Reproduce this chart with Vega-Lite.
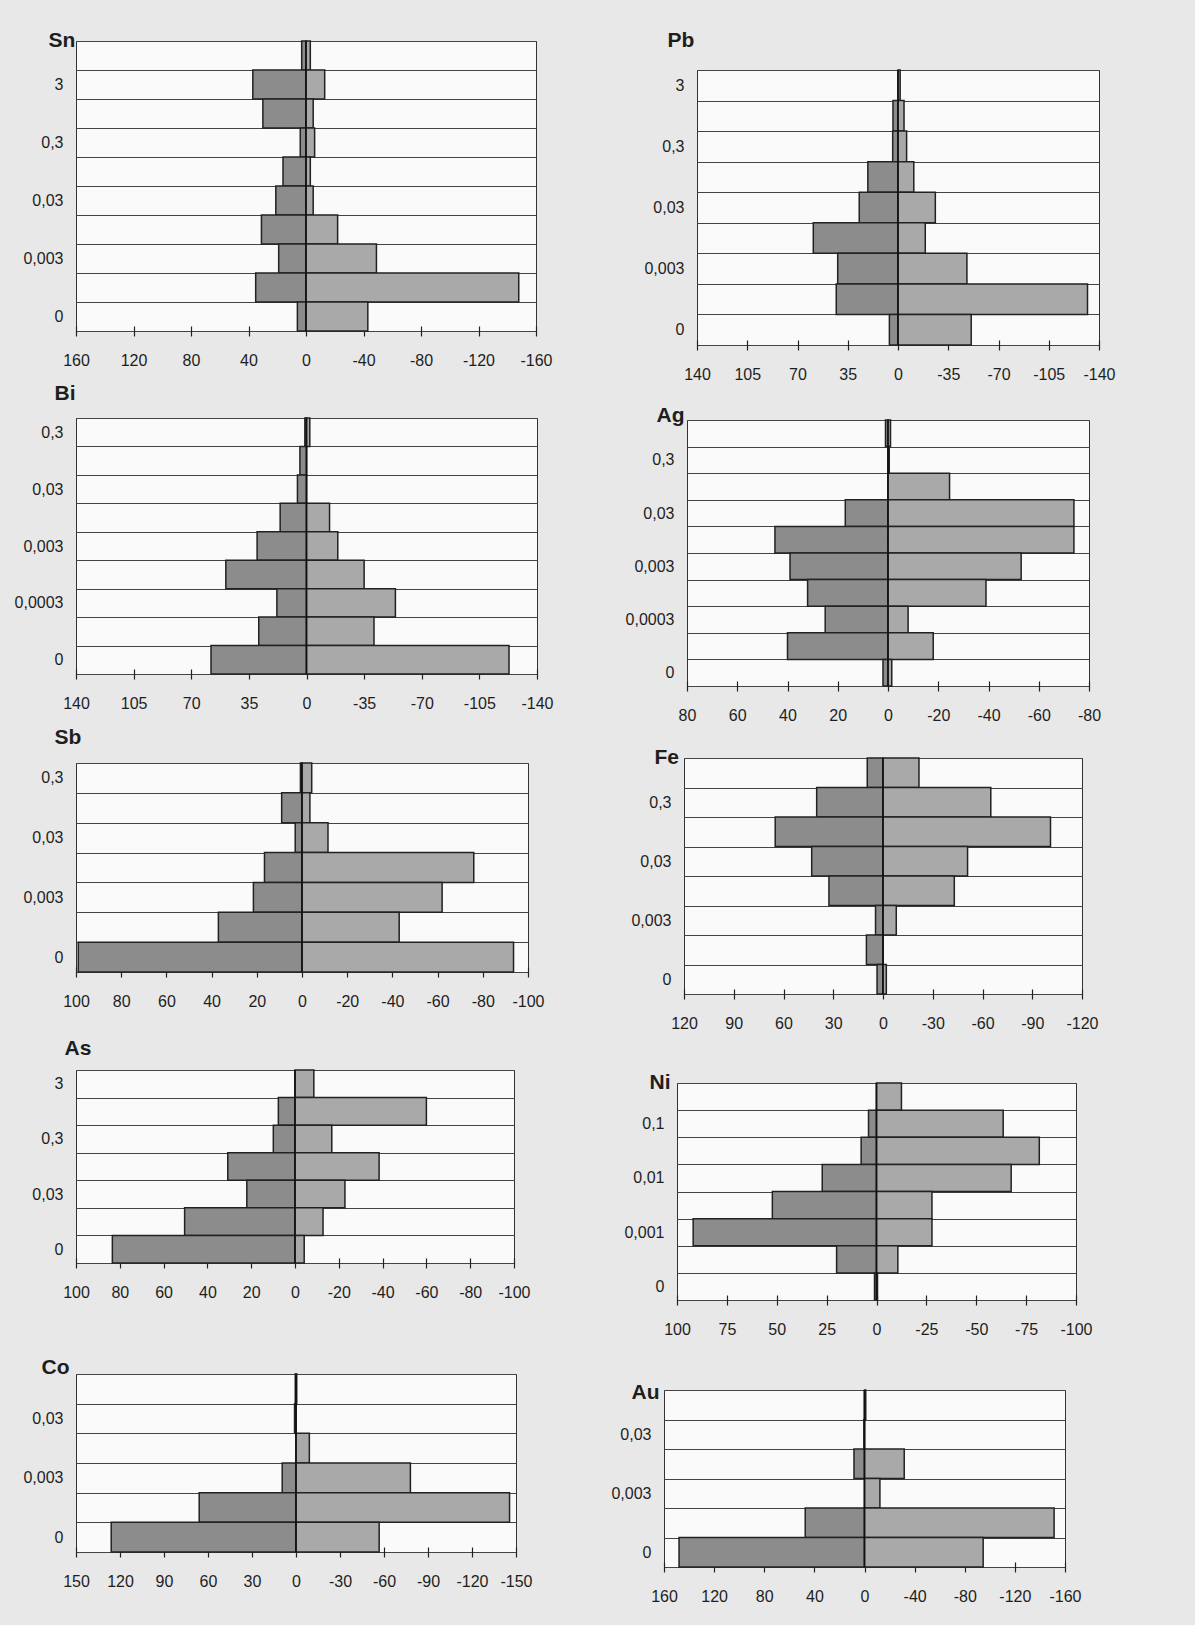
{
  "$schema": "https://vega.github.io/schema/vega-lite/v6.json",
  "background": "#e8e8e8",
  "padding": {"left": 0, "top": 27, "right": 79, "bottom": 20},
  "autosize": {"type": "pad"},
  "config": {
    "font": "Liberation Sans",
    "view": {"fill": "#fafafa", "stroke": "#333333", "strokeWidth": 1},
    "axisY": {"ticks": false, "domain": false, "grid": true, "tickBand": "extent", "gridColor": "#444444", "gridWidth": 1, "labelFontSize": 16, "labelPadding": 13, "labelColor": "#1e1e1e", "labelFont": "Liberation Sans", "titleAngle": 0, "titleAlign": "left", "titleBaseline": "middle", "titleFontSize": 21, "titleFontWeight": "bold", "titleColor": "#1e1e1e", "titleFont": "Liberation Sans"},
    "axisX": {"grid": false, "domain": false, "tickSize": 10, "offset": -5, "tickColor": "#222222", "tickWidth": 1.2, "labelFontSize": 16, "labelPadding": 16, "labelColor": "#1e1e1e", "labelFont": "Liberation Sans", "labelFlush": false, "labelOverlap": false, "titleFontSize": 2, "titleAlign": "left", "titleBaseline": "top", "titleColor": "transparent"}
  },
  "data": {"values": [
    {"el":"Sn","bin":"10","side":"L","v":3},{"el":"Sn","bin":"10","side":"R","v":-3},
    {"el":"Sn","bin":"3","side":"L","v":37},{"el":"Sn","bin":"3","side":"R","v":-13},
    {"el":"Sn","bin":"1","side":"L","v":30},{"el":"Sn","bin":"1","side":"R","v":-5},
    {"el":"Sn","bin":"0,3","side":"L","v":4},{"el":"Sn","bin":"0,3","side":"R","v":-6},
    {"el":"Sn","bin":"0,1","side":"L","v":16},{"el":"Sn","bin":"0,1","side":"R","v":-3},
    {"el":"Sn","bin":"0,03","side":"L","v":21},{"el":"Sn","bin":"0,03","side":"R","v":-5},
    {"el":"Sn","bin":"0,01","side":"L","v":31},{"el":"Sn","bin":"0,01","side":"R","v":-22},
    {"el":"Sn","bin":"0,003","side":"L","v":19},{"el":"Sn","bin":"0,003","side":"R","v":-49},
    {"el":"Sn","bin":"0,001","side":"L","v":35},{"el":"Sn","bin":"0,001","side":"R","v":-148},
    {"el":"Sn","bin":"0","side":"L","v":6},{"el":"Sn","bin":"0","side":"R","v":-43},

    {"el":"Pb","bin":"3","side":"L","v":0},{"el":"Pb","bin":"3","side":"R","v":-1.5},
    {"el":"Pb","bin":"1","side":"L","v":3.5},{"el":"Pb","bin":"1","side":"R","v":-4.2},
    {"el":"Pb","bin":"0,3","side":"L","v":3.7},{"el":"Pb","bin":"0,3","side":"R","v":-6},
    {"el":"Pb","bin":"0,1","side":"L","v":21},{"el":"Pb","bin":"0,1","side":"R","v":-11},
    {"el":"Pb","bin":"0,03","side":"L","v":27},{"el":"Pb","bin":"0,03","side":"R","v":-26},
    {"el":"Pb","bin":"0,01","side":"L","v":59},{"el":"Pb","bin":"0,01","side":"R","v":-19},
    {"el":"Pb","bin":"0,003","side":"L","v":42},{"el":"Pb","bin":"0,003","side":"R","v":-48},
    {"el":"Pb","bin":"0,001","side":"L","v":43},{"el":"Pb","bin":"0,001","side":"R","v":-132},
    {"el":"Pb","bin":"0","side":"L","v":6},{"el":"Pb","bin":"0","side":"R","v":-51},

    {"el":"Bi","bin":"0,3","side":"L","v":1},{"el":"Bi","bin":"0,3","side":"R","v":-2},
    {"el":"Bi","bin":"0,1","side":"L","v":4},{"el":"Bi","bin":"0,1","side":"R","v":0},
    {"el":"Bi","bin":"0,03","side":"L","v":5.5},{"el":"Bi","bin":"0,03","side":"R","v":0},
    {"el":"Bi","bin":"0,01","side":"L","v":16},{"el":"Bi","bin":"0,01","side":"R","v":-14},
    {"el":"Bi","bin":"0,003","side":"L","v":30},{"el":"Bi","bin":"0,003","side":"R","v":-19},
    {"el":"Bi","bin":"0,001","side":"L","v":49},{"el":"Bi","bin":"0,001","side":"R","v":-35},
    {"el":"Bi","bin":"0,0003","side":"L","v":18},{"el":"Bi","bin":"0,0003","side":"R","v":-54},
    {"el":"Bi","bin":"0,0001","side":"L","v":29},{"el":"Bi","bin":"0,0001","side":"R","v":-41},
    {"el":"Bi","bin":"0","side":"L","v":58},{"el":"Bi","bin":"0","side":"R","v":-123},

    {"el":"Ag","bin":"1","side":"L","v":1},{"el":"Ag","bin":"1","side":"R","v":-1},
    {"el":"Ag","bin":"0,3","side":"L","v":0},{"el":"Ag","bin":"0,3","side":"R","v":-0.5},
    {"el":"Ag","bin":"0,1","side":"L","v":0},{"el":"Ag","bin":"0,1","side":"R","v":-24.5},
    {"el":"Ag","bin":"0,03","side":"L","v":17},{"el":"Ag","bin":"0,03","side":"R","v":-74},
    {"el":"Ag","bin":"0,01","side":"L","v":45},{"el":"Ag","bin":"0,01","side":"R","v":-74},
    {"el":"Ag","bin":"0,003","side":"L","v":39},{"el":"Ag","bin":"0,003","side":"R","v":-53},
    {"el":"Ag","bin":"0,001","side":"L","v":32},{"el":"Ag","bin":"0,001","side":"R","v":-39},
    {"el":"Ag","bin":"0,0003","side":"L","v":25},{"el":"Ag","bin":"0,0003","side":"R","v":-8},
    {"el":"Ag","bin":"0,0001","side":"L","v":40},{"el":"Ag","bin":"0,0001","side":"R","v":-18},
    {"el":"Ag","bin":"0","side":"L","v":2},{"el":"Ag","bin":"0","side":"R","v":-1.5},

    {"el":"Sb","bin":"0,3","side":"L","v":0.7},{"el":"Sb","bin":"0,3","side":"R","v":-4.3},
    {"el":"Sb","bin":"0,1","side":"L","v":9},{"el":"Sb","bin":"0,1","side":"R","v":-3.5},
    {"el":"Sb","bin":"0,03","side":"L","v":3},{"el":"Sb","bin":"0,03","side":"R","v":-11.5},
    {"el":"Sb","bin":"0,01","side":"L","v":16.6},{"el":"Sb","bin":"0,01","side":"R","v":-76},
    {"el":"Sb","bin":"0,003","side":"L","v":21.5},{"el":"Sb","bin":"0,003","side":"R","v":-62},
    {"el":"Sb","bin":"0,001","side":"L","v":37},{"el":"Sb","bin":"0,001","side":"R","v":-43},
    {"el":"Sb","bin":"0","side":"L","v":99},{"el":"Sb","bin":"0","side":"R","v":-93.6},

    {"el":"Fe","bin":"1","side":"L","v":9.5},{"el":"Fe","bin":"1","side":"R","v":-21.7},
    {"el":"Fe","bin":"0,3","side":"L","v":40},{"el":"Fe","bin":"0,3","side":"R","v":-65},
    {"el":"Fe","bin":"0,1","side":"L","v":65},{"el":"Fe","bin":"0,1","side":"R","v":-101},
    {"el":"Fe","bin":"0,03","side":"L","v":43},{"el":"Fe","bin":"0,03","side":"R","v":-51},
    {"el":"Fe","bin":"0,01","side":"L","v":32.6},{"el":"Fe","bin":"0,01","side":"R","v":-43},
    {"el":"Fe","bin":"0,003","side":"L","v":4.5},{"el":"Fe","bin":"0,003","side":"R","v":-8},
    {"el":"Fe","bin":"0,001","side":"L","v":10},{"el":"Fe","bin":"0,001","side":"R","v":0},
    {"el":"Fe","bin":"0","side":"L","v":3.6},{"el":"Fe","bin":"0","side":"R","v":-2},

    {"el":"As","bin":"3","side":"L","v":0},{"el":"As","bin":"3","side":"R","v":-8.6},
    {"el":"As","bin":"1","side":"L","v":7.6},{"el":"As","bin":"1","side":"R","v":-60},
    {"el":"As","bin":"0,3","side":"L","v":9.9},{"el":"As","bin":"0,3","side":"R","v":-16.8},
    {"el":"As","bin":"0,1","side":"L","v":30.7},{"el":"As","bin":"0,1","side":"R","v":-38.4},
    {"el":"As","bin":"0,03","side":"L","v":22},{"el":"As","bin":"0,03","side":"R","v":-22.8},
    {"el":"As","bin":"0,01","side":"L","v":50.4},{"el":"As","bin":"0,01","side":"R","v":-12.8},
    {"el":"As","bin":"0","side":"L","v":83.4},{"el":"As","bin":"0","side":"R","v":-4.2},

    {"el":"Ni","bin":"0,3","side":"L","v":0},{"el":"Ni","bin":"0,3","side":"R","v":-12.5},
    {"el":"Ni","bin":"0,1","side":"L","v":4},{"el":"Ni","bin":"0,1","side":"R","v":-63.5},
    {"el":"Ni","bin":"0,03","side":"L","v":7.7},{"el":"Ni","bin":"0,03","side":"R","v":-81.6},
    {"el":"Ni","bin":"0,01","side":"L","v":27.2},{"el":"Ni","bin":"0,01","side":"R","v":-67.5},
    {"el":"Ni","bin":"0,003","side":"L","v":52.2},{"el":"Ni","bin":"0,003","side":"R","v":-27.8},
    {"el":"Ni","bin":"0,001","side":"L","v":91.9},{"el":"Ni","bin":"0,001","side":"R","v":-27.8},
    {"el":"Ni","bin":"0,0003","side":"L","v":20},{"el":"Ni","bin":"0,0003","side":"R","v":-10.7},
    {"el":"Ni","bin":"0","side":"L","v":1},{"el":"Ni","bin":"0","side":"R","v":-0.5},

    {"el":"Co","bin":"0,1","side":"L","v":0.5},{"el":"Co","bin":"0,1","side":"R","v":-0.5},
    {"el":"Co","bin":"0,03","side":"L","v":1},{"el":"Co","bin":"0,03","side":"R","v":0},
    {"el":"Co","bin":"0,01","side":"L","v":0},{"el":"Co","bin":"0,01","side":"R","v":-9.1},
    {"el":"Co","bin":"0,003","side":"L","v":9.4},{"el":"Co","bin":"0,003","side":"R","v":-78},
    {"el":"Co","bin":"0,001","side":"L","v":66},{"el":"Co","bin":"0,001","side":"R","v":-145.6},
    {"el":"Co","bin":"0","side":"L","v":126},{"el":"Co","bin":"0","side":"R","v":-56.7},

    {"el":"Au","bin":"0,1","side":"L","v":0},{"el":"Au","bin":"0,1","side":"R","v":-1},
    {"el":"Au","bin":"0,03","side":"L","v":0.5},{"el":"Au","bin":"0,03","side":"R","v":0},
    {"el":"Au","bin":"0,01","side":"L","v":8.4},{"el":"Au","bin":"0,01","side":"R","v":-31.7},
    {"el":"Au","bin":"0,003","side":"L","v":0},{"el":"Au","bin":"0,003","side":"R","v":-12.3},
    {"el":"Au","bin":"0,001","side":"L","v":47.3},{"el":"Au","bin":"0,001","side":"R","v":-151.3},
    {"el":"Au","bin":"0","side":"L","v":148},{"el":"Au","bin":"0","side":"R","v":-94.7}
  ]},
  "spacing": 38,
  "hconcat": [
    {"spacing": 0, "vconcat": [
      {"width": 1, "height": 1, "data": {"values": []}, "mark": "point", "view": {"fill": "#e8e8e8", "stroke": null}},
      {"width": 460, "height": 290, "layer": [
        {"transform": [{"filter": "datum.el === 'Sn'"}], "mark": {"type": "bar", "stroke": "#222222", "strokeWidth": 1.5},
         "encoding": {
          "y": {"field": "bin", "type": "nominal", "sort": null, "scale": {"paddingInner": 0, "paddingOuter": 0}, "axis": {"title": "Sn", "titleX": -28, "titleY": -1, "labelExpr": "indexof(['3','0,3','0,03','0,003','0'], datum.value) >= 0 ? datum.value : ''"}},
          "x": {"field": "v", "type": "quantitative", "stack": null, "scale": {"domain": [-160, 160], "reverse": true, "nice": false, "zero": false}, "axis": {"values": [160,120,80,40,0,-40,-80,-120,-160], "labelExpr": "'' + datum.value", "title": " ", "titleX": -75, "titleY": 52}},
          "x2": {"datum": 0},
          "color": {"field": "side", "type": "nominal", "scale": {"domain": ["L","R"], "range": ["#8c8c8c","#a9a9a9"]}, "legend": null}}},
        {"data": {"values": [{}]}, "mark": {"type": "rule", "color": "#111111", "strokeWidth": 1.5}, "encoding": {"x": {"datum": 0}}}
      ]},
      {"width": 461, "height": 256, "layer": [
        {"transform": [{"filter": "datum.el === 'Bi'"}], "mark": {"type": "bar", "stroke": "#222222", "strokeWidth": 1.5},
         "encoding": {
          "y": {"field": "bin", "type": "nominal", "sort": null, "scale": {"paddingInner": 0, "paddingOuter": 0}, "axis": {"title": "Bi", "titleX": -22, "titleY": -25, "labelExpr": "indexof(['0,3','0,03','0,003','0,0003','0'], datum.value) >= 0 ? datum.value : ''"}},
          "x": {"field": "v", "type": "quantitative", "stack": null, "scale": {"domain": [-140, 140], "reverse": true, "nice": false, "zero": false}, "axis": {"values": [140,105,70,35,0,-35,-70,-105,-140], "labelExpr": "'' + datum.value", "title": " ", "titleX": -75, "titleY": 53}},
          "x2": {"datum": 0},
          "color": {"field": "side", "type": "nominal", "scale": {"domain": ["L","R"], "range": ["#8c8c8c","#a9a9a9"]}, "legend": null}}},
        {"data": {"values": [{}]}, "mark": {"type": "rule", "color": "#111111", "strokeWidth": 1.5}, "encoding": {"x": {"datum": 0}}}
      ]},
      {"width": 452, "height": 209, "layer": [
        {"transform": [{"filter": "datum.el === 'Sb'"}], "mark": {"type": "bar", "stroke": "#222222", "strokeWidth": 1.5},
         "encoding": {
          "y": {"field": "bin", "type": "nominal", "sort": null, "scale": {"paddingInner": 0, "paddingOuter": 0}, "axis": {"title": "Sb", "titleX": -22, "titleY": -26, "labelExpr": "indexof(['0,3','0,03','0,003','0'], datum.value) >= 0 ? datum.value : ''"}},
          "x": {"field": "v", "type": "quantitative", "stack": null, "scale": {"domain": [-100, 100], "reverse": true, "nice": false, "zero": false}, "axis": {"values": [100,80,60,40,20,0,-20,-40,-60,-80,-100], "labelExpr": "'' + datum.value", "title": " ", "titleX": -75, "titleY": 66}},
          "x2": {"datum": 0},
          "color": {"field": "side", "type": "nominal", "scale": {"domain": ["L","R"], "range": ["#8c8c8c","#a9a9a9"]}, "legend": null}}},
        {"data": {"values": [{}]}, "mark": {"type": "rule", "color": "#111111", "strokeWidth": 1.5}, "encoding": {"x": {"datum": 0}}}
      ]},
      {"width": 438, "height": 193, "layer": [
        {"transform": [{"filter": "datum.el === 'As'"}], "mark": {"type": "bar", "stroke": "#222222", "strokeWidth": 1.5},
         "encoding": {
          "y": {"field": "bin", "type": "nominal", "sort": null, "scale": {"paddingInner": 0, "paddingOuter": 0}, "axis": {"title": "As", "titleX": -12, "titleY": -22, "labelExpr": "indexof(['3','0,3','0,03','0'], datum.value) >= 0 ? datum.value : ''"}},
          "x": {"field": "v", "type": "quantitative", "stack": null, "scale": {"domain": [-100, 100], "reverse": true, "nice": false, "zero": false}, "axis": {"values": [100,80,60,40,20,0,-20,-40,-60,-80,-100], "labelExpr": "'' + datum.value", "title": " ", "titleX": -75, "titleY": 94}},
          "x2": {"datum": 0},
          "color": {"field": "side", "type": "nominal", "scale": {"domain": ["L","R"], "range": ["#8c8c8c","#a9a9a9"]}, "legend": null}}},
        {"data": {"values": [{}]}, "mark": {"type": "rule", "color": "#111111", "strokeWidth": 1.5}, "encoding": {"x": {"datum": 0}}}
      ]},
      {"width": 440, "height": 178, "layer": [
        {"transform": [{"filter": "datum.el === 'Co'"}], "mark": {"type": "bar", "stroke": "#222222", "strokeWidth": 1.5},
         "encoding": {
          "y": {"field": "bin", "type": "nominal", "sort": null, "scale": {"paddingInner": 0, "paddingOuter": 0}, "axis": {"title": "Co", "titleX": -35, "titleY": -7, "labelExpr": "indexof(['0,03','0,003','0'], datum.value) >= 0 ? datum.value : ''"}},
          "x": {"field": "v", "type": "quantitative", "stack": null, "scale": {"domain": [-150, 150], "reverse": true, "nice": false, "zero": false}, "axis": {"values": [150,120,90,60,30,0,-30,-60,-90,-120,-150], "labelExpr": "'' + datum.value", "title": " ", "titleX": -75, "titleY": 40}},
          "x2": {"datum": 0},
          "color": {"field": "side", "type": "nominal", "scale": {"domain": ["L","R"], "range": ["#8c8c8c","#a9a9a9"]}, "legend": null}}},
        {"data": {"values": [{}]}, "mark": {"type": "rule", "color": "#111111", "strokeWidth": 1.5}, "encoding": {"x": {"datum": 0}}}
      ]}
    ]},
    {"spacing": 0, "vconcat": [
      {"width": 1, "height": 1, "data": {"values": []}, "mark": "point", "view": {"fill": "#e8e8e8", "stroke": null}},
      {"spacing": 0, "hconcat": [
        {"width": 34, "height": 1, "data": {"values": []}, "mark": "point", "view": {"fill": "#e8e8e8", "stroke": null}},
        {"width": 402, "height": 275, "layer": [
          {"transform": [{"filter": "datum.el === 'Pb'"}], "mark": {"type": "bar", "stroke": "#222222", "strokeWidth": 1.5},
           "encoding": {
            "y": {"field": "bin", "type": "nominal", "sort": null, "scale": {"paddingInner": 0, "paddingOuter": 0}, "axis": {"title": "Pb", "titleX": -30, "titleY": -30, "labelExpr": "indexof(['3','0,3','0,03','0,003','0'], datum.value) >= 0 ? datum.value : ''"}},
            "x": {"field": "v", "type": "quantitative", "stack": null, "scale": {"domain": [-140, 140], "reverse": true, "nice": false, "zero": false}, "axis": {"values": [140,105,70,35,0,-35,-70,-105,-140], "labelExpr": "'' + datum.value", "title": " ", "titleX": -70, "titleY": 60}},
            "x2": {"datum": 0},
            "color": {"field": "side", "type": "nominal", "scale": {"domain": ["L","R"], "range": ["#8c8c8c","#a9a9a9"]}, "legend": null}}},
          {"data": {"values": [{}]}, "mark": {"type": "rule", "color": "#111111", "strokeWidth": 1.5}, "encoding": {"x": {"datum": 0}}}
        ]}
      ]},
      {"spacing": 0, "hconcat": [
        {"width": 24, "height": 1, "data": {"values": []}, "mark": "point", "view": {"fill": "#e8e8e8", "stroke": null}},
        {"width": 402, "height": 266, "layer": [
          {"transform": [{"filter": "datum.el === 'Ag'"}], "mark": {"type": "bar", "stroke": "#222222", "strokeWidth": 1.5},
           "encoding": {
            "y": {"field": "bin", "type": "nominal", "sort": null, "scale": {"paddingInner": 0, "paddingOuter": 0}, "axis": {"title": "Ag", "titleX": -31, "titleY": -5, "labelExpr": "indexof(['0,3','0,03','0,003','0,0003','0'], datum.value) >= 0 ? datum.value : ''"}},
            "x": {"field": "v", "type": "quantitative", "stack": null, "scale": {"domain": [-80, 80], "reverse": true, "nice": false, "zero": false}, "axis": {"values": [80,60,40,20,0,-20,-40,-60,-80], "labelExpr": "'' + datum.value", "title": " ", "titleX": -70, "titleY": 61}},
            "x2": {"datum": 0},
            "color": {"field": "side", "type": "nominal", "scale": {"domain": ["L","R"], "range": ["#8c8c8c","#a9a9a9"]}, "legend": null}}},
          {"data": {"values": [{}]}, "mark": {"type": "rule", "color": "#111111", "strokeWidth": 1.5}, "encoding": {"x": {"datum": 0}}}
        ]}
      ]},
      {"spacing": 0, "hconcat": [
        {"width": 21, "height": 1, "data": {"values": []}, "mark": "point", "view": {"fill": "#e8e8e8", "stroke": null}},
        {"width": 398, "height": 236, "layer": [
          {"transform": [{"filter": "datum.el === 'Fe'"}], "mark": {"type": "bar", "stroke": "#222222", "strokeWidth": 1.5},
           "encoding": {
            "y": {"field": "bin", "type": "nominal", "sort": null, "scale": {"paddingInner": 0, "paddingOuter": 0}, "axis": {"title": "Fe", "titleX": -30, "titleY": -1, "labelExpr": "indexof(['0,3','0,03','0,003','0'], datum.value) >= 0 ? datum.value : ''"}},
            "x": {"field": "v", "type": "quantitative", "stack": null, "scale": {"domain": [-120, 120], "reverse": true, "nice": false, "zero": false}, "axis": {"values": [120,90,60,30,0,-30,-60,-90,-120], "labelExpr": "'' + datum.value", "title": " ", "titleX": -70, "titleY": 78}},
            "x2": {"datum": 0},
            "color": {"field": "side", "type": "nominal", "scale": {"domain": ["L","R"], "range": ["#8c8c8c","#a9a9a9"]}, "legend": null}}},
          {"data": {"values": [{}]}, "mark": {"type": "rule", "color": "#111111", "strokeWidth": 1.5}, "encoding": {"x": {"datum": 0}}}
        ]}
      ]},
      {"spacing": 0, "hconcat": [
        {"width": 14, "height": 1, "data": {"values": []}, "mark": "point", "view": {"fill": "#e8e8e8", "stroke": null}},
        {"width": 399, "height": 217, "layer": [
          {"transform": [{"filter": "datum.el === 'Ni'"}], "mark": {"type": "bar", "stroke": "#222222", "strokeWidth": 1.5},
           "encoding": {
            "y": {"field": "bin", "type": "nominal", "sort": null, "scale": {"paddingInner": 0, "paddingOuter": 0}, "axis": {"title": "Ni", "titleX": -28, "titleY": -1, "labelExpr": "indexof(['0,1','0,01','0,001','0'], datum.value) >= 0 ? datum.value : ''"}},
            "x": {"field": "v", "type": "quantitative", "stack": null, "scale": {"domain": [-100, 100], "reverse": true, "nice": false, "zero": false}, "axis": {"values": [100,75,50,25,0,-25,-50,-75,-100], "labelExpr": "'' + datum.value", "title": " ", "titleX": -70, "titleY": 82}},
            "x2": {"datum": 0},
            "color": {"field": "side", "type": "nominal", "scale": {"domain": ["L","R"], "range": ["#8c8c8c","#a9a9a9"]}, "legend": null}}},
          {"data": {"values": [{}]}, "mark": {"type": "rule", "color": "#111111", "strokeWidth": 1.5}, "encoding": {"x": {"datum": 0}}}
        ]}
      ]},
      {"spacing": 0, "hconcat": [
        {"width": 1, "height": 1, "data": {"values": []}, "mark": "point", "view": {"fill": "#e8e8e8", "stroke": null}},
        {"width": 401, "height": 177, "layer": [
          {"transform": [{"filter": "datum.el === 'Au'"}], "mark": {"type": "bar", "stroke": "#222222", "strokeWidth": 1.5},
           "encoding": {
            "y": {"field": "bin", "type": "nominal", "sort": null, "scale": {"paddingInner": 0, "paddingOuter": 0}, "axis": {"title": "Au", "titleX": -33, "titleY": 2, "labelExpr": "indexof(['0,03','0,003','0'], datum.value) >= 0 ? datum.value : ''"}},
            "x": {"field": "v", "type": "quantitative", "stack": null, "scale": {"domain": [-160, 160], "reverse": true, "nice": false, "zero": false}, "axis": {"values": [160,120,80,40,0,-40,-80,-120,-160], "labelExpr": "'' + datum.value", "title": " ", "titleX": -70, "titleY": 40}},
            "x2": {"datum": 0},
            "color": {"field": "side", "type": "nominal", "scale": {"domain": ["L","R"], "range": ["#8c8c8c","#a9a9a9"]}, "legend": null}}},
          {"data": {"values": [{}]}, "mark": {"type": "rule", "color": "#111111", "strokeWidth": 1.5}, "encoding": {"x": {"datum": 0}}}
        ]}
      ]}
    ]}
  ]
}
